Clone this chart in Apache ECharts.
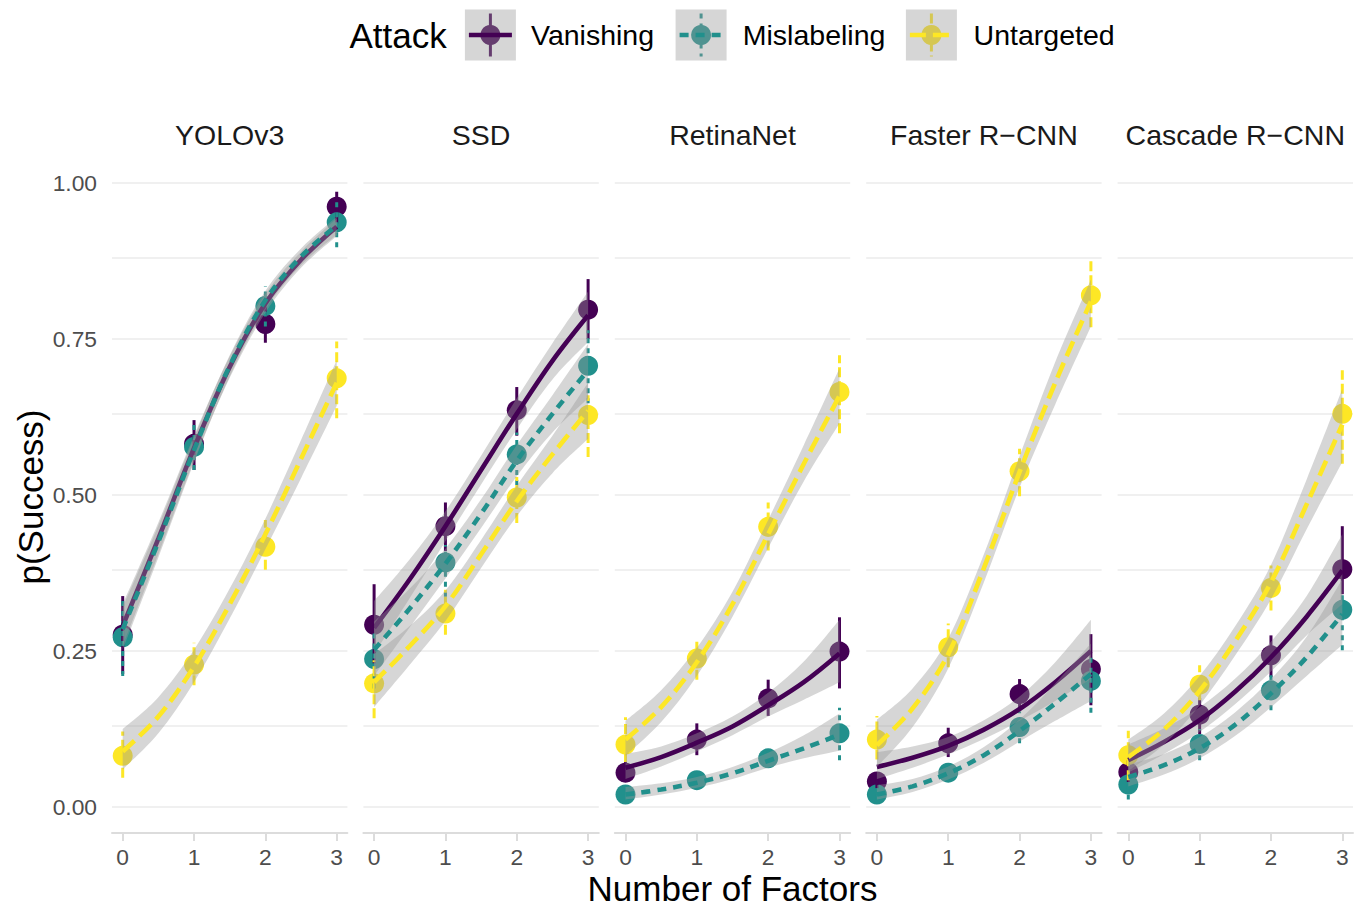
<!DOCTYPE html>
<html>
<head>
<meta charset="utf-8">
<title>p(Success) by Number of Factors</title>
<script src="https://cdn.jsdelivr.net/npm/echarts@6.0.0/dist/echarts.min.js"></script>
<style>
  html, body { margin: 0; padding: 0; background: #fff; }
  #chart { width: 1361px; height: 907px; }
</style>
</head>
<body>
<div id="chart"></div>
<script>
// facets, groups and axes
const models = ['YOLOv3', 'SSD', 'RetinaNet', 'Faster R\u2212CNN', 'Cascade R\u2212CNN'];
const attacks = ['Vanishing', 'Mislabeling', 'Untargeted'];
const factors = [0, 1, 2, 3];
const fitX = [0, 0.5, 1, 1.5, 2, 2.5, 3];
const yTicks = [0, 0.25, 0.5, 0.75, 1];
const yGrid = [0, 0.125, 0.25, 0.375, 0.5, 0.625, 0.75, 0.875, 1];

// observed success rate with error bars (one row per model, columns = factors 0..3)
const vanishingRate = [
  [0.276, 0.582, 0.774, 0.962],
  [0.292, 0.450, 0.636, 0.797],
  [0.055, 0.108, 0.174, 0.249],
  [0.041, 0.102, 0.181, 0.221],
  [0.056, 0.148, 0.243, 0.381]
];
const vanishingLow = [
  [0.213, 0.540, 0.744, 0.935],
  [0.230, 0.410, 0.595, 0.750],
  [0.040, 0.083, 0.146, 0.190],
  [0.030, 0.080, 0.157, 0.163],
  [0.040, 0.117, 0.208, 0.341]
];
const vanishingHigh = [
  [0.338, 0.620, 0.805, 0.986],
  [0.357, 0.488, 0.673, 0.846],
  [0.072, 0.134, 0.204, 0.304],
  [0.055, 0.127, 0.205, 0.277],
  [0.075, 0.175, 0.275, 0.450]
];

const mislabelingRate = [
  [0.272, 0.577, 0.803, 0.937],
  [0.237, 0.392, 0.565, 0.707],
  [0.020, 0.043, 0.078, 0.118],
  [0.020, 0.055, 0.128, 0.202],
  [0.036, 0.101, 0.187, 0.316]
];
const mislabelingLow = [
  [0.210, 0.540, 0.770, 0.897],
  [0.190, 0.337, 0.516, 0.647],
  [0.012, 0.035, 0.068, 0.075],
  [0.012, 0.045, 0.102, 0.151],
  [0.012, 0.075, 0.155, 0.251]
];
const mislabelingHigh = [
  [0.335, 0.615, 0.835, 0.970],
  [0.285, 0.420, 0.600, 0.764],
  [0.030, 0.052, 0.090, 0.159],
  [0.030, 0.068, 0.153, 0.245],
  [0.060, 0.125, 0.215, 0.345]
];

const untargetedRate = [
  [0.082, 0.228, 0.417, 0.687],
  [0.198, 0.310, 0.496, 0.628],
  [0.100, 0.238, 0.449, 0.665],
  [0.108, 0.256, 0.538, 0.820],
  [0.083, 0.196, 0.351, 0.630]
];
const untargetedLow = [
  [0.047, 0.195, 0.380, 0.623],
  [0.142, 0.276, 0.455, 0.561],
  [0.072, 0.204, 0.411, 0.599],
  [0.076, 0.224, 0.498, 0.769],
  [0.043, 0.171, 0.315, 0.550]
];
const untargetedHigh = [
  [0.121, 0.263, 0.460, 0.746],
  [0.235, 0.348, 0.529, 0.660],
  [0.144, 0.269, 0.488, 0.724],
  [0.146, 0.294, 0.574, 0.875],
  [0.122, 0.227, 0.387, 0.700]
];

// fitted curves with confidence band, read at fitX
const vanishingFit = [
  [0.290, 0.430, 0.575, 0.705, 0.807, 0.877, 0.930],
  [0.287, 0.365, 0.450, 0.540, 0.630, 0.715, 0.788],
  [0.063, 0.080, 0.103, 0.129, 0.163, 0.200, 0.246],
  [0.064, 0.079, 0.098, 0.124, 0.157, 0.200, 0.250],
  [0.075, 0.104, 0.139, 0.185, 0.240, 0.305, 0.379]
];
const vanishingFitLow = [
  [0.258, 0.405, 0.555, 0.688, 0.792, 0.864, 0.915],
  [0.245, 0.335, 0.426, 0.517, 0.605, 0.685, 0.745],
  [0.045, 0.065, 0.089, 0.115, 0.145, 0.172, 0.200],
  [0.045, 0.063, 0.084, 0.109, 0.138, 0.170, 0.205],
  [0.055, 0.085, 0.120, 0.165, 0.217, 0.275, 0.325]
];
const vanishingFitHigh = [
  [0.325, 0.456, 0.595, 0.722, 0.822, 0.890, 0.943],
  [0.330, 0.397, 0.474, 0.563, 0.655, 0.743, 0.826],
  [0.085, 0.097, 0.118, 0.145, 0.183, 0.233, 0.300],
  [0.088, 0.097, 0.112, 0.139, 0.177, 0.232, 0.300],
  [0.100, 0.126, 0.160, 0.206, 0.265, 0.338, 0.437]
];

const mislabelingFit = [
  [0.285, 0.425, 0.572, 0.707, 0.812, 0.882, 0.932],
  [0.252, 0.318, 0.390, 0.470, 0.555, 0.630, 0.700],
  [0.020, 0.028, 0.039, 0.054, 0.074, 0.094, 0.116],
  [0.020, 0.033, 0.054, 0.083, 0.122, 0.166, 0.213],
  [0.048, 0.067, 0.094, 0.132, 0.182, 0.240, 0.309]
];
const mislabelingFitLow = [
  [0.252, 0.400, 0.552, 0.690, 0.797, 0.868, 0.917],
  [0.210, 0.288, 0.366, 0.447, 0.530, 0.600, 0.655],
  [0.012, 0.020, 0.031, 0.045, 0.063, 0.078, 0.090],
  [0.012, 0.024, 0.044, 0.071, 0.105, 0.138, 0.170],
  [0.033, 0.052, 0.078, 0.114, 0.160, 0.210, 0.260]
];
const mislabelingFitHigh = [
  [0.320, 0.451, 0.592, 0.724, 0.827, 0.895, 0.946],
  [0.297, 0.350, 0.414, 0.493, 0.580, 0.660, 0.742],
  [0.032, 0.038, 0.048, 0.064, 0.087, 0.115, 0.150],
  [0.035, 0.045, 0.065, 0.096, 0.140, 0.198, 0.262],
  [0.068, 0.085, 0.112, 0.152, 0.205, 0.273, 0.365]
];

const untargetedFit = [
  [0.089, 0.145, 0.225, 0.325, 0.437, 0.558, 0.680],
  [0.200, 0.258, 0.322, 0.405, 0.490, 0.565, 0.635],
  [0.108, 0.160, 0.232, 0.325, 0.437, 0.550, 0.659],
  [0.099, 0.158, 0.245, 0.383, 0.537, 0.680, 0.810],
  [0.080, 0.124, 0.186, 0.266, 0.360, 0.485, 0.613]
];
const untargetedFitLow = [
  [0.060, 0.118, 0.200, 0.302, 0.413, 0.527, 0.643],
  [0.160, 0.228, 0.298, 0.383, 0.466, 0.535, 0.590],
  [0.082, 0.136, 0.210, 0.305, 0.415, 0.522, 0.615],
  [0.064, 0.128, 0.222, 0.360, 0.512, 0.645, 0.770],
  [0.058, 0.100, 0.163, 0.243, 0.333, 0.445, 0.553]
];
const untargetedFitHigh = [
  [0.125, 0.176, 0.252, 0.350, 0.462, 0.588, 0.716],
  [0.245, 0.290, 0.347, 0.428, 0.515, 0.595, 0.680],
  [0.138, 0.187, 0.255, 0.345, 0.460, 0.580, 0.703],
  [0.140, 0.190, 0.270, 0.405, 0.562, 0.713, 0.845],
  [0.108, 0.150, 0.210, 0.290, 0.388, 0.525, 0.670]
];

// table the series loop reads from
const groups = [
  { rate: vanishingRate, low: vanishingLow, high: vanishingHigh,
    fit: vanishingFit, fitLow: vanishingFitLow, fitHigh: vanishingFitHigh },
  { rate: mislabelingRate, low: mislabelingLow, high: mislabelingHigh,
    fit: mislabelingFit, fitLow: mislabelingFitLow, fitHigh: mislabelingFitHigh },
  { rate: untargetedRate, low: untargetedLow, high: untargetedHigh,
    fit: untargetedFit, fitLow: untargetedFitLow, fitHigh: untargetedFitHigh }
];

// styles
const FONT = '"Liberation Sans", Arial, Helvetica, sans-serif';
const colors = ['#440154', '#21908C', '#FDE725'];
const fitDash = ['solid', [9, 7], [16, 7]];
const barDash = ['solid', [5, 5], [10, 4]];
const bandFill = 'rgba(153,153,153,0.4)';
const gridColor = '#ebebeb';
const axisColor = '#dcdcdc';

// panel layout
const panelLeft = 112;
const panelStep = 251.4;
const panelW = 235.4;
const panelTop = 151.8;
const panelH = 681.2;

// cubic segments through pixel points (catmull-rom), same smoothing idea as a smooth line
function curvePath(pts) {
  let d = '';
  for (let i = 0; i < pts.length - 1; i++) {
    const p0 = pts[Math.max(i - 1, 0)], p1 = pts[i], p2 = pts[i + 1], p3 = pts[Math.min(i + 2, pts.length - 1)];
    const c1x = p1[0] + (p2[0] - p0[0]) / 6, c1y = p1[1] + (p2[1] - p0[1]) / 6;
    const c2x = p2[0] - (p3[0] - p1[0]) / 6, c2y = p2[1] - (p3[1] - p1[1]) / 6;
    d += ' C' + c1x + ' ' + c1y + ' ' + c2x + ' ' + c2y + ' ' + p2[0] + ' ' + p2[1];
  }
  return d;
}

const chart = echarts.init(document.getElementById('chart'), null, { renderer: 'svg' });

const grids = [], xAxes = [], yAxes = [], series = [];

models.forEach((m, p) => {
  grids.push({
    left: panelLeft + p * panelStep, top: panelTop, width: panelW, height: panelH,
    containLabel: false, outerBoundsMode: 'none'
  });
  xAxes.push({
    type: 'value', gridIndex: p, min: -0.15, max: 3.15,
    splitLine: { show: false },
    axisLine: { show: true, onZero: false, lineStyle: { color: axisColor, width: 2 } },
    axisTick: { show: true, length: 8, customValues: factors, lineStyle: { color: axisColor, width: 2 } },
    axisLabel: { customValues: factors, margin: 12, fontSize: 22.8, color: '#4d4d4d', fontFamily: FONT }
  });
  yAxes.push({
    type: 'value', gridIndex: p, min: -0.0417, max: 1.05,
    splitLine: { show: false },
    axisLine: { show: false },
    axisTick: { show: false },
    axisLabel: {
      show: p === 0, customValues: yTicks, margin: 15,
      formatter: v => v.toFixed(2),
      fontSize: 22.8, color: '#4d4d4d', fontFamily: FONT
    }
  });

  // horizontal gridlines
  series.push({
    type: 'line', xAxisIndex: p, yAxisIndex: p, data: [], z: 0, silent: true,
    markLine: {
      silent: true, symbol: ['none', 'none'], label: { show: false }, z: 0,
      lineStyle: { color: gridColor, width: 1.6, type: 'solid' },
      emphasis: { disabled: true },
      data: yGrid.map(v => ({ yAxis: v }))
    }
  });

  groups.forEach((g, k) => {
    const color = colors[k];

    // points
    series.push({
      name: attacks[k], type: 'scatter', xAxisIndex: p, yAxisIndex: p, z: 2, silent: true,
      symbolSize: 20, itemStyle: { color: color, opacity: 1 },
      data: factors.map((x, i) => [x, g.rate[p][i]])
    });

    // error bars
    series.push({
      type: 'custom', xAxisIndex: p, yAxisIndex: p, z: 3, silent: true,
      encode: { x: 0, y: [1, 2] },
      data: factors.map((x, i) => [x, g.low[p][i], g.high[p][i]]),
      renderItem: (params, api) => {
        const a = api.coord([api.value(0), api.value(1)]);
        const b = api.coord([api.value(0), api.value(2)]);
        return {
          type: 'line',
          shape: { x1: a[0], y1: a[1], x2: b[0], y2: b[1] },
          style: { stroke: color, lineWidth: 3, lineDash: barDash[k] === 'solid' ? null : barDash[k] }
        };
      }
    });

    // confidence band: one closed shape from the low and high arrays
    // each group's band then line is drawn in turn, so later bands wash earlier lines
    const bandRows = fitX.map((x, i) => [x, g.fitLow[p][i], g.fitHigh[p][i]]);
    series.push({
      type: 'custom', xAxisIndex: p, yAxisIndex: p, z: 4 + 2 * k, silent: true,
      encode: { x: 0, y: [1, 2] },
      data: bandRows,
      renderItem: (params, api) => {
        if (params.dataIndex !== 0) return null;
        const lower = bandRows.map(r => api.coord([r[0], r[1]]));
        const upper = bandRows.map(r => api.coord([r[0], r[2]])).reverse();
        const d = 'M' + lower[0][0] + ' ' + lower[0][1] + curvePath(lower) +
          ' L' + upper[0][0] + ' ' + upper[0][1] + curvePath(upper) + ' Z';
        return { type: 'path', shape: { pathData: d }, style: { fill: bandFill, stroke: null } };
      }
    });

    // fitted line
    series.push({
      type: 'line', xAxisIndex: p, yAxisIndex: p, z: 5 + 2 * k, silent: true,
      smooth: 0.35, symbol: 'none',
      lineStyle: { color: color, width: 4.6, type: fitDash[k], cap: 'butt' },
      data: fitX.map((x, i) => [x, g.fit[p][i]])
    });
  });
});

// strip labels, axis titles, legend
const graphics = [];
models.forEach((m, p) => {
  graphics.push({
    type: 'text', x: panelLeft + p * panelStep + panelW / 2, y: 134.5,
    style: { text: m, fontSize: 28.5, fontFamily: FONT, fill: '#1a1a1a', align: 'center', verticalAlign: 'middle' }
  });
});
graphics.push({
  type: 'text', x: 30, y: 497, rotation: Math.PI / 2,
  style: { text: 'p(Success)', fontSize: 35, fontFamily: FONT, fill: '#000', align: 'center', verticalAlign: 'middle' }
});
graphics.push({
  type: 'text', x: 732.5, y: 888,
  style: { text: 'Number of Factors', fontSize: 35, lineHeight: 28, fontFamily: FONT, fill: '#000', align: 'center', verticalAlign: 'middle' }
});
graphics.push({
  type: 'text', x: 349.5, y: 35,
  style: { text: 'Attack', fontSize: 35, fontFamily: FONT, fill: '#000', align: 'left', verticalAlign: 'middle' }
});
const keyLeft = [464.9, 675.6, 905.9];
const keyLabelX = [531, 742.8, 973.6];
const keySize = 51, keyTop = 9.5;
attacks.forEach((a, k) => {
  const cx = keyLeft[k] + keySize / 2, cy = keyTop + keySize / 2;
  graphics.push({ type: 'circle', z: 10, shape: { cx: cx, cy: cy, r: 10 }, style: { fill: colors[k] } });
  graphics.push({
    type: 'line', z: 11, shape: { x1: cx, y1: keyTop + 4, x2: cx, y2: keyTop + keySize - 4 },
    style: { stroke: colors[k], lineWidth: 3, lineDash: barDash[k] === 'solid' ? null : barDash[k] }
  });
  graphics.push({
    type: 'rect', z: 12, shape: { x: keyLeft[k], y: keyTop, width: keySize, height: keySize },
    style: { fill: bandFill }
  });
  graphics.push({
    type: 'line', z: 13, shape: { x1: keyLeft[k] + 4, y1: cy, x2: keyLeft[k] + keySize - 4, y2: cy },
    style: { stroke: colors[k], lineWidth: 4.6, lineDash: fitDash[k] === 'solid' ? null : fitDash[k] }
  });
  graphics.push({
    type: 'text', z: 13, x: keyLabelX[k], y: 35,
    style: { text: a, fontSize: 28.5, fontFamily: FONT, fill: '#000', align: 'left', verticalAlign: 'middle' }
  });
});

chart.setOption({
  animation: false,
  backgroundColor: '#fff',
  textStyle: { fontFamily: FONT },
  grid: grids,
  xAxis: xAxes,
  yAxis: yAxes,
  series: series,
  graphic: graphics
});
</script>
</body>
</html>
